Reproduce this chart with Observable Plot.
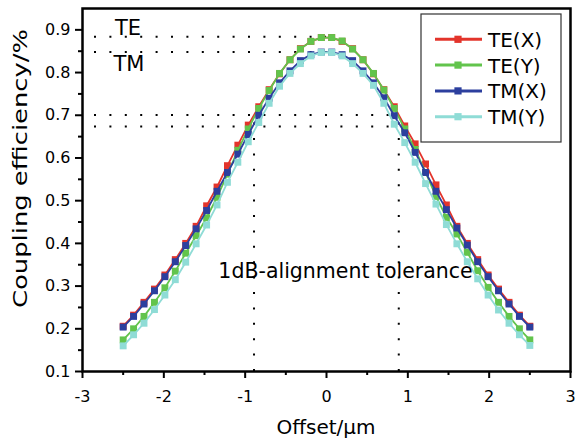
<!DOCTYPE html>
<html>
<head>
<meta charset="utf-8">
<script src="https://cdn.jsdelivr.net/npm/d3@7"></script>
<script src="https://cdn.jsdelivr.net/npm/@observablehq/plot@0.6"></script>
<style>
  html, body { margin: 0; padding: 0; background: #fff; }
  #chart { width: 579px; height: 439px; }
</style>
</head>
<body>
<div id="chart"></div>
<script>
// ---- data ----
const offsets = [-2.500, -2.372, -2.244, -2.115, -1.987, -1.859, -1.731, -1.603, -1.474, -1.346,
                 -1.218, -1.090, -0.962, -0.833, -0.705, -0.577, -0.449, -0.321, -0.192, -0.064,
                  0.064,  0.192,  0.321,  0.449,  0.577,  0.705,  0.833,  0.962,  1.090,  1.218,
                  1.346,  1.474,  1.603,  1.731,  1.859,  1.987,  2.115,  2.244,  2.372,  2.500];

const teX = [0.206,0.232,0.262,0.293,0.326,0.362,0.400,0.440,0.488,0.532,0.582,0.630,0.677,0.720,0.760,0.797,0.830,0.856,0.873,0.882,
             0.882,0.873,0.856,0.830,0.797,0.760,0.720,0.675,0.633,0.586,0.537,0.490,0.440,0.400,0.362,0.326,0.293,0.262,0.232,0.206];
const teY = [0.174,0.200,0.229,0.262,0.296,0.335,0.377,0.418,0.460,0.508,0.562,0.618,0.668,0.716,0.758,0.798,0.830,0.855,0.873,0.882,
             0.882,0.874,0.855,0.830,0.798,0.759,0.716,0.668,0.620,0.566,0.510,0.461,0.422,0.379,0.336,0.297,0.262,0.229,0.200,0.174];
const tmX = [0.204,0.229,0.258,0.289,0.322,0.357,0.395,0.434,0.477,0.522,0.566,0.609,0.655,0.700,0.740,0.776,0.804,0.828,0.842,0.848,
             0.848,0.842,0.828,0.804,0.776,0.741,0.699,0.659,0.613,0.566,0.522,0.479,0.436,0.396,0.357,0.322,0.289,0.258,0.229,0.204];
const tmY = [0.160,0.186,0.213,0.245,0.279,0.315,0.356,0.399,0.443,0.490,0.543,0.590,0.638,0.683,0.728,0.768,0.798,0.821,0.839,0.847,
             0.847,0.839,0.821,0.798,0.770,0.728,0.679,0.636,0.590,0.540,0.492,0.444,0.399,0.357,0.317,0.279,0.244,0.213,0.186,0.161];

const seriesNames = ["TE(X)", "TE(Y)", "TM(X)", "TM(Y)"];
const seriesValues = [teX, teY, tmX, tmY];
const seriesColors = ["#e3342b", "#62c44c", "#2c3f9e", "#8fdcd6"];

const xTicks = [-3, -2, -1, 0, 1, 2, 3];
const xMinor = [-2.5, -1.5, -0.5, 0.5, 1.5, 2.5];
const yTicks = [0.1, 0.2, 0.3, 0.4, 0.5, 0.6, 0.7, 0.8, 0.9];
const yMinor = [0.15, 0.25, 0.35, 0.45, 0.55, 0.65, 0.75, 0.85];

// ---- derived tables ----
const rows = seriesNames.flatMap((s, i) => offsets.map((x, j) => ({s, x, y: seriesValues[i][j]})));

const tePeak = d3.max(teX), tmPeak = d3.max(tmX);
const oneDB = Math.pow(10, -0.1);
const teLow = tePeak * oneDB, tmLow = tmPeak * oneDB;
function crossing(vals, level, side) {
  const n = vals.length;
  if (side < 0) {
    for (let j = 0; j < n - 1; j++) if (vals[j] <= level && vals[j+1] > level)
      return offsets[j] + (level - vals[j]) / (vals[j+1] - vals[j]) * (offsets[j+1] - offsets[j]);
  } else {
    for (let j = n - 1; j > 0; j--) if (vals[j] <= level && vals[j-1] > level)
      return offsets[j] + (level - vals[j]) / (vals[j-1] - vals[j]) * (offsets[j-1] - offsets[j]);
  }
}
const xL = crossing(teX, teLow, -1), xR = crossing(teX, teLow, 1);

const hRefs = [
  {y: tePeak + 0.002, x1: -3, x2: 0},
  {y: tmPeak, x1: -3, x2: 0.05},
  {y: teLow, x1: -3, x2: xR},
  {y: tmLow, x1: -3, x2: xR}
];
const vRefs = [{x: xL, y1: 0.1, y2: teLow}, {x: xR, y1: 0.1, y2: teLow}];

const labels = [
  {text: "TE", x: -2.60, y: 0.888},
  {text: "TM", x: -2.62, y: 0.804}
];
const noteText = [{text: "1dB-alignment tolerance", x: 0.234, y: 0.318}];

const FONT = "DejaVu Sans";
const dotted = {stroke: "black", strokeWidth: 2, strokeDasharray: "2,13.4", strokeDashoffset: 3.4};

const marks = [
  Plot.ruleY(hRefs, {y: "y", x1: "x1", x2: "x2", ...dotted}),
  Plot.ruleX(vRefs, {x: "x", y1: "y1", y2: "y2", ...dotted, strokeDashoffset: 0}),
];
seriesNames.forEach((s, i) => {
  const d = rows.filter(r => r.s === s);
  marks.push(Plot.line(d, {x: "x", y: "y", stroke: seriesColors[i], strokeWidth: 1.8}));
  marks.push(Plot.dot(d, {x: "x", y: "y", symbol: "square", r: 3.9, fill: seriesColors[i], stroke: "none"}));
});
marks.push(
  Plot.text(labels, {x: "x", y: "y", text: "text", textAnchor: "start", lineAnchor: "bottom", fontSize: 21, fill: "black"}),
  Plot.text(noteText, {x: "x", y: "y", text: "text", textAnchor: "middle", lineAnchor: "bottom", fontSize: 20.5, fill: "black"}),
  Plot.axisX(xTicks, {tickSize: 7, tickPadding: 12, fontSize: 16, strokeWidth: 2, tickFormat: d => String(d), label: null}),
  Plot.axisX(xMinor, {tickSize: 4, strokeWidth: 2, tickFormat: () => "", label: null}),
  Plot.axisY(yTicks, {tickSize: 7, tickPadding: 5, fontSize: 16, strokeWidth: 2, tickFormat: d3.format(".1f"), label: null}),
  Plot.axisY(yMinor, {tickSize: 4, strokeWidth: 2, tickFormat: () => "", label: null}),
  Plot.frame({stroke: "black", strokeWidth: 2.5})
);

const svg = Plot.plot({
  width: 579, height: 439,
  marginLeft: 82, marginRight: 9, marginTop: 8, marginBottom: 68,
  x: {domain: [-3, 3], label: null},
  y: {domain: [0.1, 0.95], label: null},
  style: {fontFamily: FONT, background: "white", color: "black", overflow: "visible"},
  marks
});

// ---- titles and legend ----
const g = d3.select(svg);
g.append("text")
  .attr("x", 326).attr("y", 434)
  .attr("text-anchor", "middle")
  .attr("font-family", FONT).attr("font-size", 20)
  .attr("fill", "black")
  .text("Offset/μm");
g.append("text")
  .attr("transform", "translate(27,168.5) rotate(-90)")
  .attr("text-anchor", "middle")
  .attr("font-family", FONT).attr("font-size", 19.5)
  .attr("fill", "black")
  .attr("textLength", 279).attr("lengthAdjust", "spacingAndGlyphs")
  .text("Coupling efficiency/%");

const lg = g.append("g");
lg.append("rect").attr("x", 421).attr("y", 14).attr("width", 140).attr("height", 128)
  .attr("fill", "white").attr("stroke", "#333").attr("stroke-width", 1.2);
seriesNames.forEach((s, i) => {
  const yy = 39.3 + i * 25.8;
  lg.append("line").attr("x1", 435).attr("x2", 482).attr("y1", yy).attr("y2", yy)
    .attr("stroke", seriesColors[i]).attr("stroke-width", 3);
  lg.append("rect").attr("x", 458 - 3.6).attr("y", yy - 3.6).attr("width", 7.2).attr("height", 7.2)
    .attr("fill", seriesColors[i]);
  lg.append("text").attr("x", 488).attr("y", yy + 7.5)
    .attr("text-anchor", "start")
    .attr("font-family", FONT).attr("font-size", 20).attr("fill", "black")
    .text(s);
});

document.getElementById("chart").appendChild(svg);
</script>
</body>
</html>
